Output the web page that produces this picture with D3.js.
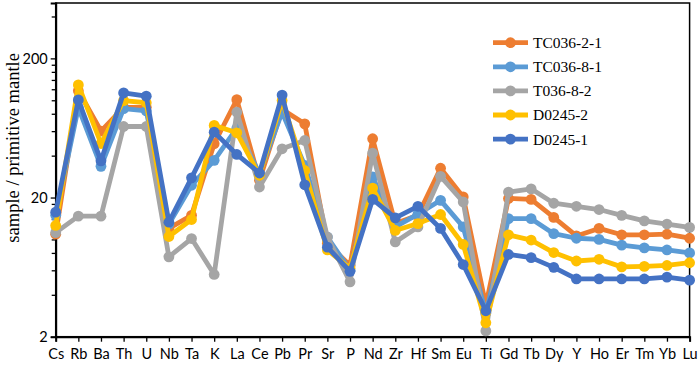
<!DOCTYPE html>
<html>
<head>
<meta charset="utf-8">
<script src="https://cdn.jsdelivr.net/npm/d3@7"></script>
<style>
  body { margin: 0; background: #fff; }
  svg { display: block; }
</style>
</head>
<body>
<svg id="chart"></svg>
<script>
// data
const elements = ["Cs", "Rb", "Ba", "Th", "U", "Nb", "Ta", "K", "La", "Ce", "Pb", "Pr", "Sr", "P", "Nd",
    "Zr", "Hf", "Sm", "Eu", "Ti", "Gd", "Tb", "Dy", "Y", "Ho", "Er", "Tm", "Yb", "Lu"];
const sampleNames = ["TC036-2-1", "TC036-8-1", "T036-8-2", "D0245-2", "D0245-1"];
const sampleColors = ["#ED7D31", "#5B9BD5", "#A5A5A5", "#FFC000", "#4472C4"];
const tc036_2_1 = [10.9, 117, 60.1, 89, 89, 12.0, 14.9, 48.7, 101, 26.6, 86, 67.7, 9.4, 6.5, 52.9,
    13.0, 14.9, 32.5, 20.2, 3.37, 19.7, 19.4, 14.4, 10.6, 12.0, 10.8, 10.8, 10.9, 10.2];
const tc036_8_1 = [14.9, 88.6, 33.5, 87, 84, 12.9, 24.5, 37, 63, 29.8, 82, 34, 10.4, 6.0, 28.1,
    12.3, 15.2, 19.1, 12.3, 2.96, 14.1, 14.1, 11.0, 10.2, 10.0, 9.1, 8.7, 8.4, 8.0];
const t036_8_2 = [11.2, 14.7, 14.7, 64.8, 64.8, 7.5, 10.15, 5.6, 82, 23.8, 44.8, 51.4, 10.4, 4.96, 41.7,
    9.6, 12.3, 28.4, 18.6, 2.2, 21.9, 23.1, 18.2, 17.3, 16.4, 14.9, 13.6, 12.9, 12.2];
const d0245_2 = [12.6, 129, 48.9, 99.5, 96, 10.5, 13.9, 66, 58.4, 28.9, 99.5, 31.3, 8.4, 6.2, 23.4,
    11.6, 13.0, 15.1, 9.2, 2.52, 10.8, 9.9, 8.05, 7.0, 7.2, 6.35, 6.4, 6.5, 6.8];
const d0245_1 = [15.7, 100.6, 36.7, 113, 107, 13.3, 27.7, 59, 40.8, 30, 109, 24.7, 8.8, 5.9, 19.4,
    14.3, 17.3, 12.0, 6.6, 3.07, 7.8, 7.4, 6.3, 5.2, 5.2, 5.2, 5.2, 5.36, 5.1];
const seriesValues = [tc036_2_1, tc036_8_1, t036_8_2, d0245_2, d0245_1];
const yMajorTicks = [2, 20, 200];
const yMinorTicks = [4, 6, 8, 10, 12, 14, 16, 18, 40, 60, 80, 100, 120, 140, 160, 180, 400];
const yTitle = "sample / primitive mantle";

// layout
const width = 699, height = 367;
const margin = {top: 3, right: 9.4, bottom: 30.3, left: 55.7};
const innerW = width - margin.left - margin.right;
const innerH = height - margin.top - margin.bottom;
const lineWidth = 4.8;
const markerRadius = 5.4;

const svg = d3.select("#chart")
    .attr("width", width)
    .attr("height", height);

const x = d3.scalePoint()
    .domain(elements)
    .range([0, innerW]);
const y = d3.scaleLog()
    .domain([2, 500])
    .range([innerH, 0]);

const g = svg.append("g")
    .attr("transform", `translate(${margin.left},${margin.top})`);

// frame
g.append("rect")
    .attr("width", innerW)
    .attr("height", innerH)
    .attr("fill", "none")
    .attr("stroke", "#000")
    .attr("stroke-width", 1.5);

// y axis: majors with labels, minors without
const yAxis = g.append("g")
    .call(d3.axisLeft(y).tickValues(yMajorTicks).tickFormat(d3.format("d")).tickSize(5).tickPadding(3));
g.append("g")
    .call(d3.axisLeft(y).tickValues(yMinorTicks).tickFormat("").tickSize(4))
    .call(a => a.select(".domain").remove());
yAxis.select(".domain").attr("stroke-width", 2);
yAxis.selectAll("text")
    .attr("font-family", "Lato, 'Open Sans', sans-serif")
    .attr("font-size", 14.5)
    .attr("fill", "#000");
g.selectAll(".tick line").attr("stroke", "#000").attr("stroke-width", 1.3);

// x axis
const xAxis = g.append("g")
    .attr("transform", `translate(0,${innerH})`)
    .call(d3.axisBottom(x).tickSize(5).tickPadding(7));
xAxis.select(".domain").attr("stroke-width", 2);
xAxis.selectAll(".tick line").attr("stroke-width", 1.3);
xAxis.selectAll("text")
    .attr("font-family", "Lato, 'Open Sans', sans-serif")
    .attr("font-size", 14.5)
    .attr("fill", "#000");

// y title
svg.append("text")
    .attr("transform", `translate(19,${margin.top + innerH / 2 - 22}) rotate(-90)`)
    .attr("text-anchor", "middle")
    .attr("font-family", "'Liberation Serif', 'DejaVu Serif', serif")
    .attr("font-size", 18.5)
    .attr("fill", "#000")
    .text(yTitle);

// series
const line = d3.line()
    .x((d, i) => x(elements[i]))
    .y(d => y(d));
seriesValues.forEach((vals, s) => {
    const sg = g.append("g");
    sg.append("path")
        .attr("d", line(vals))
        .attr("fill", "none")
        .attr("stroke", sampleColors[s])
        .attr("stroke-width", lineWidth)
        .attr("stroke-linejoin", "round");
    sg.selectAll("circle")
        .data(vals)
        .enter()
        .append("circle")
        .attr("cx", (d, i) => x(elements[i]))
        .attr("cy", d => y(d))
        .attr("r", markerRadius)
        .attr("fill", sampleColors[s]);
});

// legend
const legend = svg.append("g")
    .attr("transform", "translate(493,42.7)");
sampleNames.forEach((name, i) => {
    const row = legend.append("g").attr("transform", `translate(0,${i * 24.1})`);
    row.append("line")
        .attr("x1", 0).attr("x2", 35)
        .attr("stroke", sampleColors[i])
        .attr("stroke-width", lineWidth);
    row.append("circle")
        .attr("cx", 17.5)
        .attr("r", markerRadius)
        .attr("fill", sampleColors[i]);
    row.append("text")
        .attr("x", 40)
        .attr("dy", "0.35em")
        .attr("font-family", "'Liberation Serif', 'DejaVu Serif', serif")
        .attr("font-size", 15.5)
        .attr("fill", "#000")
        .text(name);
});
</script>
</body>
</html>
